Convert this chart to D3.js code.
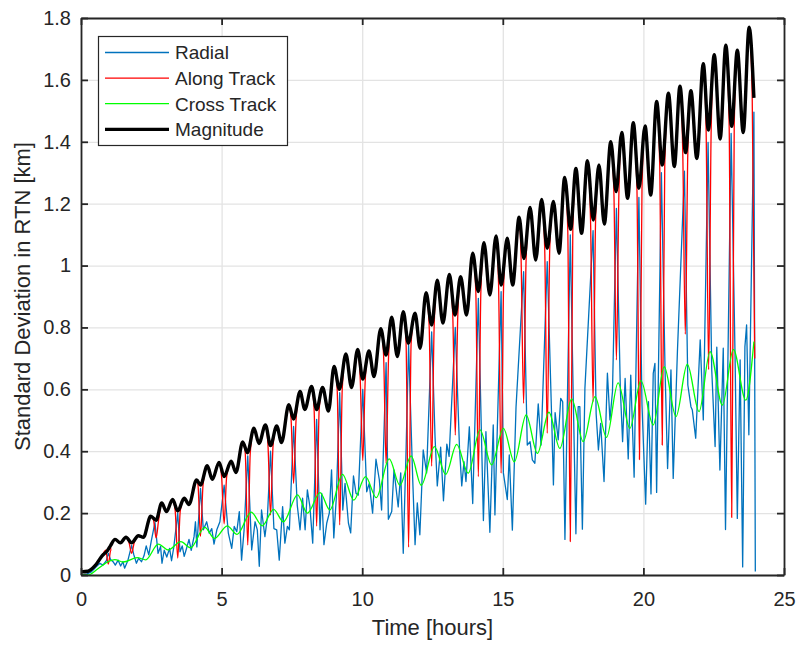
<!DOCTYPE html>
<html>
<head>
<meta charset="utf-8">
<script src="https://cdn.jsdelivr.net/npm/d3@7"></script>
<style>
  body { margin: 0; background: #fff; }
  text { font-family: Arial, "Liberation Sans", Helvetica, sans-serif; fill: #262626; }
</style>
</head>
<body>
<svg width="798" height="645"></svg>
<script>
// values: [time in hours, km]
var xTicks = [0, 5, 10, 15, 20, 25];
var yTicks = [0, 0.2, 0.4, 0.6, 0.8, 1, 1.2, 1.4, 1.6, 1.8];
var seriesNames = ["Radial", "Along Track", "Cross Track", "Magnitude"];

// magnitude: turning points of the black curve
var magnitude = [
  [0,0.010],[0.25,0.012],[0.5,0.030],[0.75,0.062],[0.95,0.080],[1.05,0.095],[1.21,0.115],[1.4,0.104],
  [1.6,0.122],[1.8,0.104],[2.04,0.127],[2.22,0.122],[2.48,0.190],[2.67,0.177],[2.87,0.233],[3.04,0.205],
  [3.26,0.244],[3.44,0.207],[3.67,0.248],[3.84,0.228],[4.11,0.307],[4.25,0.291],[4.49,0.353],[4.67,0.309],
  [4.91,0.364],[5.09,0.318],[5.34,0.368],[5.51,0.331],[5.75,0.430],[5.92,0.395],[6.15,0.474],[6.33,0.425],
  [6.56,0.485],[6.74,0.418],[6.96,0.482],[7.13,0.428],[7.39,0.550],[7.56,0.504],[7.79,0.593],[7.96,0.535],
  [8.2,0.609],[8.38,0.535],[8.59,0.606],[8.8,0.530],[9.0,0.674],[9.19,0.600],[9.42,0.714],[9.62,0.606],
  [9.84,0.729],[10.02,0.633],[10.24,0.724],[10.42,0.641],[10.66,0.796],[10.85,0.711],[11.05,0.833],[11.25,0.706],
  [11.46,0.851],[11.64,0.749],[11.88,0.846],[12.06,0.733],[12.27,0.912],[12.47,0.808],[12.67,0.953],[12.87,0.814],
  [13.1,0.971],[13.3,0.840],[13.5,0.964],[13.71,0.840],[13.93,1.040],[14.13,0.916],[14.33,1.074],[14.54,0.905],
  [14.76,1.096],[14.94,0.937],[15.16,1.088],[15.35,0.937],[15.58,1.156],[15.75,1.023],[15.97,1.188],[16.17,1.018],
  [16.38,1.214],[16.58,1.056],[16.8,1.207],[17.0,1.040],[17.2,1.285],[17.41,1.117],[17.6,1.314],[17.8,1.104],
  [18.01,1.339],[18.22,1.147],[18.42,1.325],[18.61,1.134],[18.84,1.400],[19.03,1.239],[19.23,1.430],[19.44,1.217],
  [19.64,1.462],[19.84,1.250],[20.06,1.451],[20.26,1.228],[20.47,1.530],[20.67,1.325],[20.89,1.557],[21.1,1.320],
  [21.3,1.580],[21.5,1.365],[21.69,1.565],[21.9,1.346],[22.13,1.652],[22.31,1.438],[22.52,1.681],[22.73,1.409],
  [22.93,1.712],[23.14,1.450],[23.34,1.696],[23.55,1.430],[23.76,1.770],[23.93,1.542]
];

// along track follows the magnitude except for these notches: [time, lowest value]
var alongDips = [
  [0.97,0.035],[1.8,0.070],[2.67,0.120],[3.44,0.055],[4.25,0.125],[5.09,0.165],[5.93,0.097],[6.74,0.194],
  [7.56,0.296],[8.38,0.158],[9.2,0.162],[10.02,0.370],[10.85,0.360],[11.65,0.090],[12.47,0.352],[13.31,0.452],
  [14.13,0.318],[14.94,0.329],[15.74,0.555],[16.58,0.458],[17.4,0.108],[18.21,0.560],[19.04,0.695],[19.86,0.373],
  [20.67,0.420],[21.49,0.778],[22.32,0.664],[23.14,0.186],[23.96,0.700]
];
var dipHalfWidth = 0.09; // hours, width of each notch at the trough

var radial = [
  [0,0.000],[0.2,0.003],[0.37,0.010],[0.55,0.027],[0.67,0.038],[0.78,0.032],[0.9,0.046],[0.97,0.070],
  [1.05,0.050],[1.14,0.043],[1.22,0.032],[1.32,0.048],[1.41,0.029],[1.49,0.043],[1.55,0.022],[1.67,0.048],
  [1.8,0.096],[1.88,0.065],[1.97,0.038],[2.05,0.054],[2.15,0.043],[2.24,0.062],[2.32,0.094],[2.41,0.065],
  [2.5,0.110],[2.63,0.170],[2.74,0.070],[2.83,0.092],[2.88,0.038],[2.96,0.080],[3.05,0.058],[3.15,0.086],
  [3.22,0.046],[3.3,0.090],[3.44,0.200],[3.52,0.075],[3.6,0.094],[3.67,0.060],[3.75,0.085],[3.84,0.115],
  [3.92,0.080],[4.02,0.124],[4.07,0.172],[4.12,0.091],[4.25,0.280],[4.35,0.146],[4.47,0.172],[4.56,0.135],
  [4.65,0.150],[4.73,0.100],[4.83,0.146],[4.94,0.172],[5.09,0.290],[5.24,0.135],[5.36,0.086],[5.45,0.157],
  [5.54,0.140],[5.63,0.205],[5.71,0.048],[5.8,0.146],[5.93,0.385],[6.07,0.081],[6.19,0.172],[6.27,0.146],
  [6.34,0.028],[6.42,0.210],[6.54,0.124],[6.63,0.189],[6.74,0.400],[6.86,0.150],[6.96,0.146],[7.05,0.048],
  [7.17,0.221],[7.25,0.103],[7.34,0.157],[7.41,0.146],[7.56,0.480],[7.69,0.226],[7.79,0.146],[7.88,0.248],
  [7.97,0.146],[8.05,0.275],[8.14,0.221],[8.24,0.103],[8.38,0.503],[8.5,0.146],[8.56,0.264],[8.64,0.098],
  [8.74,0.168],[8.83,0.200],[8.91,0.340],[8.99,0.120],[9.08,0.250],[9.2,0.589],[9.31,0.210],[9.39,0.296],
  [9.51,0.168],[9.59,0.136],[9.69,0.320],[9.78,0.264],[9.86,0.258],[10.02,0.600],[10.16,0.269],[10.25,0.296],
  [10.37,0.200],[10.49,0.374],[10.61,0.307],[10.69,0.210],[10.85,0.686],[10.93,0.180],[11.05,0.205],[11.13,0.340],
  [11.28,0.220],[11.37,0.330],[11.46,0.070],[11.56,0.404],[11.65,0.743],[11.8,0.300],[11.88,0.098],[11.96,0.233],
  [12.05,0.130],[12.17,0.404],[12.29,0.330],[12.47,0.786],[12.59,0.447],[12.67,0.288],[12.79,0.413],[12.89,0.240],
  [13.01,0.423],[13.09,0.383],[13.31,0.800],[13.46,0.410],[13.54,0.288],[13.62,0.366],[13.69,0.302],[13.81,0.479],
  [13.93,0.231],[14.13,0.894],[14.31,0.176],[14.4,0.463],[14.54,0.138],[14.66,0.485],[14.72,0.194],[14.94,0.916],
  [15.02,0.330],[15.16,0.244],[15.23,0.388],[15.34,0.145],[15.47,0.542],[15.74,0.980],[15.87,0.420],[15.97,0.431],
  [16.05,0.372],[16.14,0.361],[16.26,0.553],[16.36,0.420],[16.58,1.013],[16.74,0.501],[16.8,0.291],[16.86,0.525],
  [16.97,0.437],[17.06,0.571],[17.13,0.560],[17.21,0.115],[17.4,1.099],[17.51,0.550],[17.6,0.133],[17.68,0.544],
  [17.74,0.544],[17.83,0.148],[17.92,0.603],[18.21,1.113],[18.32,0.520],[18.4,0.404],[18.48,0.490],[18.6,0.302],
  [18.72,0.652],[18.81,0.501],[18.9,0.593],[19.04,1.185],[19.18,0.600],[19.26,0.431],[19.35,0.635],[19.46,0.375],
  [19.55,0.646],[19.67,0.316],[19.84,1.220],[19.95,0.550],[20.08,0.229],[20.18,0.560],[20.27,0.262],[20.35,0.652],
  [20.41,0.684],[20.47,0.267],[20.64,1.300],[20.77,0.663],[20.86,0.344],[20.98,0.663],[21.06,0.312],[21.21,0.722],
  [21.46,1.305],[21.58,0.614],[21.69,0.544],[21.74,0.533],[21.86,0.442],[22.02,0.760],[22.13,0.501],[22.3,1.398],
  [22.43,0.663],[22.55,0.415],[22.61,0.736],[22.72,0.339],[22.84,0.733],[22.92,0.147],[23.12,1.427],[23.26,0.706],
  [23.34,0.183],[23.44,0.695],[23.53,0.026],[23.61,0.738],[23.67,0.808],[23.75,0.453],[23.93,1.496],[23.98,0.011]
];

// cross track: turning points of the green curve
var crossTrack = [
  [0,0],[0.25,0.000],[0.6,0.020],[1.0,0.045],[1.2,0.050],[1.5,0.042],[2.0,0.056],[2.3,0.049],
  [2.75,0.100],[3.1,0.081],[3.55,0.108],[3.9,0.088],[4.4,0.154],[4.75,0.118],[5.2,0.159],[5.55,0.131],
  [6.05,0.203],[6.45,0.159],[6.85,0.212],[7.2,0.172],[7.7,0.259],[8.05,0.200],[8.5,0.266],[8.85,0.210],
  [9.3,0.325],[9.7,0.242],[10.12,0.318],[10.5,0.250],[10.96,0.375],[11.34,0.290],[11.74,0.385],[12.1,0.290],
  [12.57,0.415],[12.97,0.325],[13.36,0.422],[13.77,0.329],[14.19,0.469],[14.6,0.356],[15.02,0.474],[15.41,0.366],
  [15.83,0.517],[16.23,0.393],[16.64,0.526],[17.03,0.409],[17.45,0.569],[17.86,0.431],[18.28,0.576],[18.69,0.445],
  [19.1,0.621],[19.52,0.474],[19.91,0.628],[20.35,0.485],[20.74,0.673],[21.16,0.512],[21.56,0.681],[21.98,0.528],
  [22.37,0.722],[22.81,0.549],[23.2,0.729],[23.64,0.565],[23.93,0.754]
];

// along track = magnitude path with the notches dropped in at the matching troughs
var alongTrack = [];
magnitude.forEach(function(p, i) {
  var dip = alongDips.find(function(d) { return Math.abs(d[0] - p[0]) < 0.07; });
  if (!dip) { alongTrack.push(p); return; }
  if (i > 0) alongTrack.push([dip[0] - dipHalfWidth, p[1]]);
  alongTrack.push(dip);
  if (i < magnitude.length - 1) alongTrack.push([dip[0] + dipHalfWidth, p[1]]);
});

var svg = d3.select("svg");
var plotL = 81, plotR = 784, plotT = 18, plotB = 575;

var x = d3.scaleLinear().domain([0, 25]).range([plotL, plotR]);
var y = d3.scaleLinear().domain([0, 1.8]).range([plotB, plotT]);

svg.append("defs").append("clipPath").attr("id", "plot")
  .append("rect").attr("x", plotL).attr("y", plotT)
  .attr("width", plotR - plotL).attr("height", plotB - plotT);

// grid
var grid = svg.append("g").attr("class", "grid");
grid.append("g")
  .attr("transform", "translate(0," + plotB + ")")
  .call(d3.axisBottom(x).tickValues(xTicks).tickSize(-(plotB - plotT)).tickFormat(""));
grid.append("g")
  .attr("transform", "translate(" + plotL + ",0)")
  .call(d3.axisLeft(y).tickValues(yTicks).tickSize(-(plotR - plotL)).tickFormat(""));
grid.selectAll(".domain").remove();
grid.selectAll("line").attr("stroke", "#e3e3e3").attr("stroke-width", 1.3);

var smooth = d3.line().x(function(d) { return x(d[0]); }).y(function(d) { return y(d[1]); })
  .curve(d3.curveMonotoneX);
var straight = d3.line().x(function(d) { return x(d[0]); }).y(function(d) { return y(d[1]); });

var lines = svg.append("g").attr("clip-path", "url(#plot)").attr("fill", "none")
  .attr("stroke-linejoin", "round");
lines.append("path").attr("d", straight(radial)).attr("stroke", "#0072bd").attr("stroke-width", 1.3);
lines.append("path").attr("d", smooth(alongTrack)).attr("stroke", "#ff0000").attr("stroke-width", 1.3);
lines.append("path").attr("d", smooth(crossTrack)).attr("stroke", "#00ff00").attr("stroke-width", 1.3);
lines.append("path").attr("d", smooth(magnitude)).attr("stroke", "#000000").attr("stroke-width", 3.4);

// axes box with inward ticks on all sides
var ax = svg.append("g").attr("class", "axes");
ax.append("g").attr("transform", "translate(0," + plotB + ")")
  .call(d3.axisBottom(x).tickValues(xTicks).tickSize(-7).tickSizeOuter(0).tickPadding(17)
    .tickFormat(function(d) { return String(d); }));
ax.append("g").attr("transform", "translate(" + plotL + ",0)")
  .call(d3.axisLeft(y).tickValues(yTicks).tickSize(-7).tickSizeOuter(0).tickPadding(10)
    .tickFormat(function(d) { return String(d); }));
ax.append("g").attr("transform", "translate(0," + plotT + ")")
  .call(d3.axisTop(x).tickValues(xTicks).tickSize(-7).tickSizeOuter(0).tickFormat(""));
ax.append("g").attr("transform", "translate(" + plotR + ",0)")
  .call(d3.axisRight(y).tickValues(yTicks).tickSize(-7).tickSizeOuter(0).tickFormat(""));
ax.selectAll(".domain").attr("stroke", "#262626").attr("stroke-width", 1.8);
ax.selectAll(".tick line").attr("stroke", "#262626").attr("stroke-width", 1.8);
ax.selectAll(".tick text").attr("font-size", 20).attr("fill", "#262626")
  .style("font-family", "Arial, 'Liberation Sans', Helvetica, sans-serif");

svg.append("text").attr("x", (plotL + plotR) / 2).attr("y", 635)
  .attr("text-anchor", "middle").attr("font-size", 22).text("Time [hours]");
svg.append("text").attr("transform", "translate(30," + (plotT + plotB) / 2 + ") rotate(-90)")
  .attr("text-anchor", "middle").attr("font-size", 22).text("Standard Deviation in RTN [km]");

// legend
var legendColors = ["#0072bd", "#ff0000", "#00ff00", "#000000"];
var legendWidths = [1.3, 1.3, 1.3, 3.2];
var legend = svg.append("g");
legend.append("rect").attr("x", 98.5).attr("y", 36.5).attr("width", 189).attr("height", 109)
  .attr("fill", "#fff").attr("stroke", "#262626").attr("stroke-width", 1.2);
var rows = legend.selectAll(".row").data(seriesNames).enter().append("g")
  .attr("class", "row")
  .attr("transform", function(d, i) { return "translate(0," + (52.5 + i * 25.6) + ")"; });
rows.append("line").attr("x1", 105).attr("x2", 169)
  .attr("stroke", function(d, i) { return legendColors[i]; })
  .attr("stroke-width", function(d, i) { return legendWidths[i]; });
rows.append("text").attr("x", 175).attr("dy", "0.36em").attr("font-size", 19)
  .text(function(d) { return d; });
</script>
</body>
</html>
